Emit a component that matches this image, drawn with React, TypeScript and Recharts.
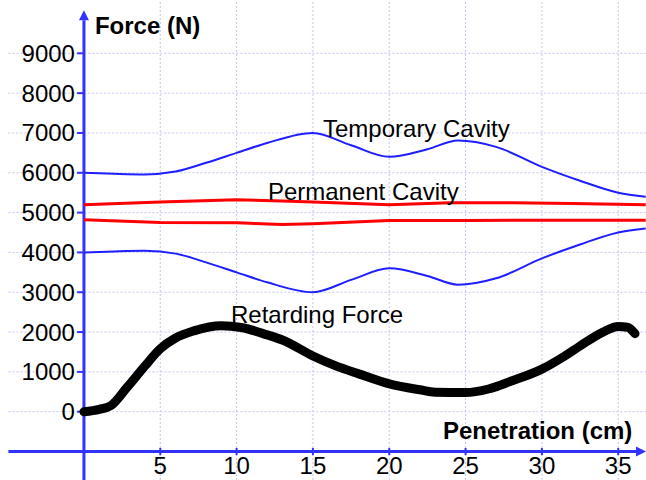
import { ComposedChart, Line, XAxis, YAxis, ReferenceLine, ReferenceDot } from "recharts";

// depth (cm) sample points
const tempDepth = [0, 2, 4, 6, 8, 10, 12, 15, 17.5, 20, 22.5, 24.5, 27, 30, 32.5, 35, 36.8];
const tempUpper = [6000, 5975, 5960, 6030, 6250, 6500, 6750, 7000, 6690, 6400, 6590, 6810, 6650, 6150, 5800, 5500, 5400];
const tempLower = [4000, 4025, 4040, 3970, 3750, 3500, 3250, 3000, 3310, 3600, 3410, 3190, 3350, 3850, 4200, 4500, 4600];

const permUpperDepth = [0, 5, 10, 13, 15, 20, 24, 28, 32, 36.8];
const permUpper = [5200, 5265, 5320, 5290, 5265, 5200, 5250, 5250, 5230, 5200];
const permLowerDepth = [0, 5, 10, 13, 15, 20, 25, 30, 36.8];
const permLower = [4820, 4750, 4745, 4700, 4720, 4800, 4800, 4810, 4810];

const forceDepth = [0, 1, 1.75, 2.8, 4, 5, 6, 7.2, 9, 10.3, 12, 13, 15, 16.5, 18, 20, 22, 23, 25, 26.5, 28, 30, 31.5, 32.5, 34, 35, 35.6, 36.1];
const retardingForce = [0, 60, 150, 600, 1150, 1580, 1850, 2030, 2160, 2115, 1930, 1800, 1400, 1150, 950, 700, 550, 490, 480, 570, 770, 1070, 1400, 1650, 2000, 2140, 2120, 1960];

const xTicks = [5, 10, 15, 20, 25, 30, 35];
const yTicks = [0, 1000, 2000, 3000, 4000, 5000, 6000, 7000, 8000, 9000];

const X_DOMAIN: [number, number] = [-5.5, 36.82];
const Y_DOMAIN: [number, number] = [-1715, 10339];
const X_AXIS_AT = -1000;

const toPoints = (xs: number[], ys: number[]) => xs.map((x, i) => ({ x, y: ys[i] }));

const AXIS_BLUE = "#3232ff";
const CURVE_BLUE = "#1e1eff";
const GRID = "#c4c4f4";
const FONT = 24;

const ArrowLine = (props: any) => {
  const { x1, y1, x2, y2, stroke, strokeWidth } = props;
  const a = Math.atan2(y2 - y1, x2 - x1);
  const len = 10;
  const half = 5;
  const bx = x2 - len * Math.cos(a);
  const by = y2 - len * Math.sin(a);
  const pts = [
    `${x2},${y2}`,
    `${bx + half * Math.sin(a)},${by - half * Math.cos(a)}`,
    `${bx - half * Math.sin(a)},${by + half * Math.cos(a)}`,
  ].join(" ");
  return (
    <g>
      <line x1={x1} y1={y1} x2={bx} y2={by} stroke={stroke} strokeWidth={strokeWidth} />
      <polygon points={pts} fill={stroke} />
    </g>
  );
};

const textLabel = (x: number, y: number, value: string, bold = false) => (
  <ReferenceDot
    key={value}
    x={x}
    y={y}
    r={0}
    fill="none"
    stroke="none"
    ifOverflow="visible"
    label={{ value, position: "right", offset: 0, fill: "#000", fontSize: FONT, fontWeight: bold ? "bold" : "normal" }}
  />
);

const lineProps = { dataKey: "y", dot: false, activeDot: false, isAnimationActive: false } as const;

export default function App() {
  return (
    <div
      style={{
        position: "absolute",
        left: 0,
        top: 0,
        width: 646,
        height: 480,
        background: "#fff",
        fontFamily: "'Liberation Sans', Arial, sans-serif",
      }}
    >
      <ComposedChart width={646} height={480} margin={{ top: 0, right: 0, bottom: 0, left: 0 }}>
        <XAxis type="number" dataKey="x" domain={X_DOMAIN} allowDataOverflow hide />
        <YAxis type="number" dataKey="y" domain={Y_DOMAIN} allowDataOverflow hide />

        {/* grid */}
        {xTicks.map((v) => (
          <ReferenceLine key={`gx${v}`} x={v} stroke={GRID} strokeDasharray="2 2" ifOverflow="visible" />
        ))}
        {yTicks.map((v) => (
          <ReferenceLine
            key={`gy${v}`}
            segment={[{ x: -4.95, y: v }, { x: X_DOMAIN[1], y: v }]}
            stroke={GRID}
            strokeDasharray="2 2"
            ifOverflow="visible"
          />
        ))}

        {/* axes */}
        <ReferenceLine
          segment={[{ x: -4.95, y: X_AXIS_AT }, { x: X_DOMAIN[1], y: X_AXIS_AT }]}
          stroke={AXIS_BLUE}
          strokeWidth={3}
          ifOverflow="visible"
          shape={ArrowLine}
        />
        <ReferenceLine
          segment={[{ x: 0, y: Y_DOMAIN[0] }, { x: 0, y: 10080 }]}
          stroke={AXIS_BLUE}
          strokeWidth={3}
          ifOverflow="visible"
          shape={ArrowLine}
        />
        {yTicks.map((v) => (
          <ReferenceLine
            key={`ty${v}`}
            segment={[{ x: -0.45, y: v }, { x: 0, y: v }]}
            stroke={AXIS_BLUE}
            strokeWidth={2}
            ifOverflow="visible"
          />
        ))}
        {xTicks.map((v) => (
          <ReferenceLine
            key={`tx${v}`}
            segment={[{ x: v, y: X_AXIS_AT - 90 }, { x: v, y: X_AXIS_AT + 90 }]}
            stroke={AXIS_BLUE}
            strokeWidth={2}
            ifOverflow="visible"
          />
        ))}
        {yTicks.map((v) => (
          <ReferenceDot
            key={`ly${v}`}
            x={0}
            y={v}
            r={0}
            fill="none"
            stroke="none"
            ifOverflow="visible"
            label={{ value: String(v), position: "left", offset: 9, fill: "#000", fontSize: FONT }}
          />
        ))}
        {xTicks.map((v) => (
          <ReferenceDot
            key={`lx${v}`}
            x={v}
            y={X_AXIS_AT}
            r={0}
            fill="none"
            stroke="none"
            ifOverflow="visible"
            label={{ value: String(v), position: "bottom", offset: 5, fill: "#000", fontSize: FONT }}
          />
        ))}

        {/* series */}
        <Line {...lineProps} data={toPoints(tempDepth, tempUpper)} type="monotone" stroke={CURVE_BLUE} strokeWidth={2} />
        <Line {...lineProps} data={toPoints(tempDepth, tempLower)} type="monotone" stroke={CURVE_BLUE} strokeWidth={2} />
        <Line {...lineProps} data={toPoints(permUpperDepth, permUpper)} type="linear" stroke="#ff0000" strokeWidth={3} />
        <Line {...lineProps} data={toPoints(permLowerDepth, permLower)} type="linear" stroke="#ff0000" strokeWidth={3} />
        <Line
          {...lineProps}
          data={toPoints(forceDepth, retardingForce)}
          type="monotone"
          stroke="#000"
          strokeWidth={9}
          strokeLinecap="round"
          strokeLinejoin="round"
        />

        {/* annotations */}
        {textLabel(15.66, 7125, "Temporary Cavity")}
        {textLabel(12.05, 5540, "Permanent Cavity")}
        {textLabel(9.63, 2450, "Retarding Force")}
        {textLabel(0.72, 9700, "Force (N)", true)}
        {textLabel(23.52, -470, "Penetration (cm)", true)}
      </ComposedChart>
    </div>
  );
}
